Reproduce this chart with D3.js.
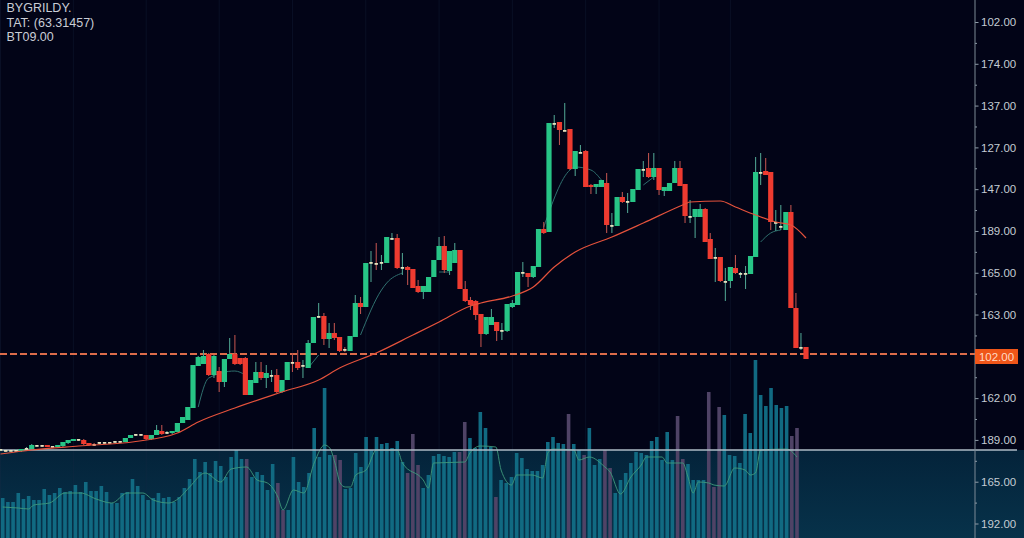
<!DOCTYPE html>
<html>
<head>
<meta charset="utf-8">
<script src="https://cdn.jsdelivr.net/npm/d3@7"></script>
<style>
  html, body { margin: 0; padding: 0; background: #020417; overflow: hidden; }
  svg { display: block; }
  text { font-family: "Liberation Sans", Arial, sans-serif; }
</style>
</head>
<body>
<div id="chart"></div>
<script>
// candles
const opens = [50,50,50,49,49,51,51,54,55,55,54,53,54,57,59,61,60,57,56,57,58,58,58,58,58,62,65,66,65,61,65,69,67,67,68,77,80,92,134,136,146,125,129,118,141,146,142,142,105,117,128,122,125,125,108,120,138,138,134,132,157,183,184,161,167,163,151,149,163,197,193,237,237,237,237,261,262,232,233,231,214,208,208,223,240,254,229,237,250,211,200,199,186,166,175,178,170,169,193,195,228,227,223,233,271,268,377,378,370,371,331,348,349,315,313,313,317,275,274,303,299,298,310,331,332,323,332,309,309,317,332,316,284,283,283,291,261,243,243,219,219,232,227,227,226,243,328,329,328,278,274,270,288,192,153,153];
const closes = [51,49,49,50,51,52,55,55,54,53,53,55,58,60,61,60,56,55,55,58,57,57,59,59,62,65,66,65,61,65,70,66,68,69,77,83,93,135,143,144,125,144,118,141,146,136,136,105,120,128,122,127,125,108,120,138,137,132,135,157,183,184,161,167,162,149,150,164,197,193,237,238,236,238,263,262,232,233,230,212,208,214,223,240,254,230,249,250,211,199,195,185,166,183,183,169,170,196,197,228,228,223,234,271,267,377,377,370,370,331,349,348,313,313,316,320,275,275,303,298,299,311,331,331,323,332,310,313,317,332,314,284,284,291,291,258,241,243,219,219,233,227,227,227,244,328,328,325,278,278,274,288,192,152,153,141];
const highs = [51,50,50,51,51,53,56,55,55,55,54,55,58,60,61,61,61,57,57,58,58,58,59,59,62,65,66,66,65,65,75,75,69,69,77,83,93,135,144,150,147,145,133,141,162,165,142,143,120,138,138,135,130,131,120,138,147,150,140,160,183,197,187,177,177,163,153,164,205,203,237,249,257,245,263,267,266,247,234,231,220,214,223,240,263,264,249,257,250,219,203,200,186,183,191,178,177,196,200,228,238,227,234,271,278,377,385,378,397,371,349,355,350,316,316,320,327,287,303,308,307,311,331,339,347,347,332,313,317,339,339,316,300,291,296,292,267,252,243,232,233,245,228,234,244,343,347,342,328,290,295,288,295,207,167,153];
const lows = [49,48,49,48,48,50,51,54,53,53,52,52,53,56,59,59,55,54,54,56,56,56,57,57,58,62,64,64,60,60,65,65,66,66,68,77,80,92,134,136,124,122,108,113,141,135,135,105,105,117,120,112,118,107,107,120,128,130,122,132,157,182,155,152,160,148,148,149,163,186,193,218,230,230,237,260,231,225,215,212,207,201,208,223,240,227,225,237,211,198,190,180,153,165,175,159,160,168,192,195,223,213,222,233,266,268,372,355,369,330,324,347,313,306,306,313,267,267,274,297,287,298,310,323,322,320,305,304,309,317,314,277,277,262,283,258,241,218,218,199,212,226,222,211,226,243,315,325,270,269,270,270,192,152,150,141];

// long moving average, index then value
const maIndex = [0,6,15,26,34,38,45,54,61,65,72,79,84,90,92,98,102,106,110,117,123,131,132,138,141,145,149,152,155];
const maValues = [46,50,54,58.5,67,78,92,108,120,132,147,165,178,194,197,204,213,233,248,263,277,296,298,299,293,285,278,275,262];

// short moving average, only the parts that show between the candles
const shortIndex = [38,40,45,47,null,59,61,null,69,73,74,77,null,84,86,null,104,109,110,113,115,null,123,125,null,146,148,150];
const shortValues = [93,122,129,125,null,132,145,null,165,210,217,227,null,228,228,null,273,330,333,330,320,null,315,323,null,258,267,270];

// volume
const volumes = [40,36,36,45,39,42,38,38,49,43,45,50,46,47,53,46,56,47,47,52,46,35,35,45,46,59,52,43,38,40,45,40,41,36,41,50,59,79,66,76,65,77,72,61,81,88,79,79,61,66,63,48,74,55,28,28,81,56,51,65,110,81,150,83,83,78,49,50,85,71,101,88,101,94,95,90,97,76,65,104,73,50,63,82,84,82,81,86,86,116,100,90,126,110,91,41,58,55,61,85,80,69,67,67,73,96,101,95,94,124,94,88,83,110,73,79,88,70,45,58,65,75,86,85,83,97,101,78,106,78,122,79,74,58,58,58,146,51,131,123,83,82,75,124,105,178,143,132,150,133,130,132,102,110];
const purpleBars = [47,53,54,64,65,78,79,80,88,89,95,109,112,116,117,130,131,136,137,138,152,153];
const volMaIndex = [0,3,5,6,9,12,15,18,21,24,27,29,32,34,36,39,42,44,47,49,51,53,54,56,58,60,62,63,64,65,66,67,68,70,72,76,77,81,82,83,89,90,92,95,96,98,99,102,104,105,106,110,111,113,116,117,119,121,123,124,127,128,131,132,133,134,136,137,139,141,143,144,145,146,151,153];
const volMaValues = [31,30,29,33,35,45,45,39,35,45,45,38,35,40,51,65,56,69,71,58,55,41,28,48,45,75,93,90,75,55,51,51,63,68,88,88,75,58,50,75,76,85,92,91,68,53,63,63,60,85,89,88,78,81,71,66,44,61,73,81,81,75,75,61,45,56,55,53,52,70,68,63,65,88,89,81];

// axis labels
const tickLabels = ["102.00","174.00","137.00","127.00","147.00","189.00","165.00","163.00","","162.00","189.00","165.00","192.00"];
const lastPriceLabel = "102.00";
const lastPriceLevel = 146;
const volumeLevel = 88;
const headerLines = ["BYGRILDY.", "TAT: (63.31457)", "BT09.00"];

const width = 1024;
const height = 538;
const axisX = 975;

const svg = d3.select("#chart").append("svg")
  .attr("width", width)
  .attr("height", height);

const defs = svg.append("defs");
const grad = defs.append("linearGradient")
  .attr("id", "lowerBg")
  .attr("x1", 0).attr("x2", 0).attr("y1", 0).attr("y2", 1);
grad.append("stop").attr("offset", "0%").attr("stop-color", "#04233a");
grad.append("stop").attr("offset", "100%").attr("stop-color", "#07324a");

// Scales. The candle spacing drifts a little across the picture
const x = d3.scaleLinear().domain([0, 37, 105, 130, 155]).range([0.5, 193, 549, 680, 806]);
const y = d3.scaleLinear().domain([0, 500]).range([500, 0]);
const xVol = d3.scaleLinear().domain([0, volumes.length - 1]).range([2.7, 797]);
const yVol = d3.scaleLinear().domain([0, 198]).range([538, 340]);
const yAxisScale = d3.scaleLinear().domain([0, 12]).range([22, 523.5]);

// Background of the volume pane
svg.append("rect")
  .attr("x", 0)
  .attr("y", yVol(volumeLevel))
  .attr("width", width)
  .attr("height", height - yVol(volumeLevel))
  .attr("fill", "url(#lowerBg)");

// Faint grid
svg.append("g").selectAll("line")
  .data(d3.range(0, 150, 14))
  .enter().append("line")
  .attr("x1", d => x(d)).attr("x2", d => x(d))
  .attr("y1", 0).attr("y2", height)
  .attr("stroke", "#1b2b45")
  .attr("stroke-opacity", 0.3);

// Volume bars
svg.append("g").selectAll("rect")
  .data(volumes)
  .enter().append("rect")
  .attr("x", (d, i) => xVol(i) - 1.8)
  .attr("y", d => yVol(d))
  .attr("width", 3.6)
  .attr("height", d => height - yVol(d))
  .attr("fill", (d, i) => purpleBars.includes(i) ? "#4f4366" : "#116a82");

// Volume average
const volLine = d3.line()
  .x(d => xVol(d))
  .y((d, i) => yVol(volMaValues[i]))
  .curve(d3.curveMonotoneX);
svg.append("path")
  .attr("d", volLine(volMaIndex))
  .attr("fill", "none")
  .attr("stroke", "#3f9a7c")
  .attr("stroke-width", 0.9);

// Horizontal level lines
svg.append("line")
  .attr("x1", 0).attr("x2", 1017)
  .attr("y1", yVol(volumeLevel)).attr("y2", yVol(volumeLevel))
  .attr("stroke", "#aebbc6")
  .attr("stroke-width", 1.3);

svg.append("line")
  .attr("x1", 0).attr("x2", axisX)
  .attr("y1", y(lastPriceLevel)).attr("y2", y(lastPriceLevel))
  .attr("stroke", "#dc6c4a")
  .attr("stroke-width", 2)
  .attr("stroke-dasharray", "7 3");

// Short average sits behind the candles
const shortLine = d3.line()
  .defined(d => d !== null)
  .x(d => x(d))
  .y((d, i) => y(shortValues[i]))
  .curve(d3.curveMonotoneX);
svg.append("path")
  .attr("d", shortLine(shortIndex))
  .attr("fill", "none")
  .attr("stroke", "#2f6f6e")
  .attr("stroke-width", 1);

// Candles
const candles = svg.append("g").selectAll("g")
  .data(d3.range(opens.length))
  .enter().append("g");

const isFlat = i => Math.abs(opens[i] - closes[i]) <= 1;
const candleColor = i => closes[i] >= opens[i] ? "#27c586" : "#ee3b30";
// flat candles show as a short pale dash
const bodyWidth = i => isFlat(i) ? 3.4 : 5.2;

candles.append("line")
  .attr("x1", i => x(i)).attr("x2", i => x(i))
  .attr("y1", i => y(highs[i])).attr("y2", i => y(lows[i]))
  .attr("stroke", i => closes[i] >= opens[i] ? "#4c9d8c" : "#b8504c")
  .attr("stroke-width", 1.1);

candles.append("rect")
  .attr("x", i => x(i) - bodyWidth(i) / 2)
  .attr("y", i => y(Math.max(opens[i], closes[i])))
  .attr("width", i => bodyWidth(i))
  .attr("height", i => Math.max(1.8, Math.abs(y(opens[i]) - y(closes[i]))))
  .attr("fill", i => isFlat(i) ? "#e6e3bf" : candleColor(i));

// Long average on top
const maLine = d3.line()
  .x(d => x(d))
  .y((d, i) => y(maValues[i]))
  .curve(d3.curveMonotoneX);
svg.append("path")
  .attr("d", maLine(maIndex))
  .attr("fill", "none")
  .attr("stroke", "#e4523c")
  .attr("stroke-width", 1.2);

// Right axis, major and minor ticks
const axisMinor = d3.axisRight(yAxisScale)
  .tickValues(d3.range(0.5, 12, 1))
  .tickSize(2)
  .tickFormat("");
const axisMajor = d3.axisRight(yAxisScale)
  .tickValues(d3.range(0, 13))
  .tickSize(3.5)
  .tickPadding(2.5)
  .tickFormat(d => tickLabels[d]);

[axisMinor, axisMajor].forEach(a => {
  const g = svg.append("g")
    .attr("transform", `translate(${axisX},0)`)
    .call(a);
  g.select(".domain").remove();
  g.selectAll("line").attr("stroke", "#8f9ca8");
  g.selectAll("text")
    .attr("fill", "#c4ccd3")
    .attr("font-size", 11.5)
    .attr("font-family", "'Liberation Sans', Arial, sans-serif");
});

svg.append("line")
  .attr("x1", axisX).attr("x2", axisX)
  .attr("y1", 0).attr("y2", height)
  .attr("stroke", "#7d8a96")
  .attr("stroke-width", 1);

// Last price tag
svg.append("rect")
  .attr("x", axisX)
  .attr("y", y(lastPriceLevel) - 5)
  .attr("width", 43)
  .attr("height", 15)
  .attr("fill", "#ef5619");
svg.append("text")
  .attr("x", axisX + 21.5)
  .attr("y", y(lastPriceLevel) + 6.5)
  .attr("text-anchor", "middle")
  .attr("font-size", 11.5)
  .attr("fill", "#ffd9c4")
  .text(lastPriceLabel);

// Header text
svg.append("g").selectAll("text")
  .data(headerLines)
  .enter().append("text")
  .attr("x", 6.5)
  .attr("y", (d, i) => 12 + i * 14.6)
  .attr("font-size", 12.5)
  .attr("fill", "#c9cdd6")
  .text(d => d);
</script>
</body>
</html>
